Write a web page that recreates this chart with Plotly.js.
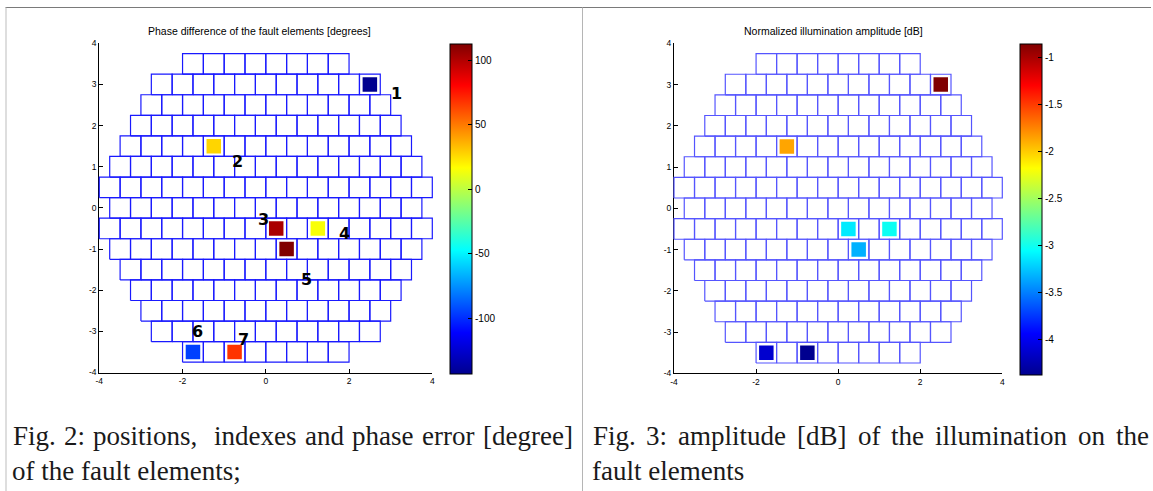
<!DOCTYPE html>
<html>
<head>
<meta charset="utf-8">
<script src="https://cdn.plot.ly/plotly-3.0.1.min.js"></script>
<style>html,body{margin:0;padding:0;background:#fff;}#chart{width:1153px;height:491px;}</style>
</head>
<body>
<div id="chart"></div>
<script>
// ---- array layout: one row per y level, number of elements in each row ----
const rowY = [3.5, 3, 2.5, 2, 1.5, 1, 0.5, 0, -0.5, -1, -1.5, -2, -2.5, -3, -3.5];
const rowCount = [8, 11, 12, 13, 14, 15, 16, 15, 16, 15, 14, 13, 12, 11, 8];
const cellSize = 0.5;

// ---- fault elements ----
const faultIndex = ["1", "2", "3", "4", "5", "6", "7"];
const faultX = [2.5, -1.25, 0.25, 1.25, 0.5, -1.75, -0.75];
const faultY = [3, 1.5, -0.5, -0.5, -1, -3.5, -3.5];
const phaseError = [-143.4, 26.9, 101.7, 15, 112.4, -95.4, 67.6];      // degrees
const amplitudeDb = [-0.86, -1.87, -3.13, -3.02, -3.33, -4.13, -4.38];  // dB
const labelX = [3.13, -0.68, -0.05, 1.89, 0.97, -1.65, -0.53];
const labelY = [2.78, 1.13, -0.28, -0.62, -1.75, -3.01, -3.2];

// ---- tick labels ----
const xTicks = [-4, -2, 0, 2, 4];
const yTicks = [-4, -3, -2, -1, 0, 1, 2, 3, 4];
const phaseTicks = [-100, -50, 0, 50, 100];
const ampTicks = [-4, -3.5, -3, -2.5, -2, -1.5, -1];

const titles = ["Phase difference of the fault elements [degrees]", "Normalized illumination amplitude [dB]"];
const caption1 = ["Fig.", "2:", "positions,", "indexes", "and", "phase", "error", "[degree]"];
const caption1Gaps = [1, 1, 2, 1, 1, 1, 1];
const caption1End = "of the fault elements;";
const caption2 = ["Fig.", "3:", "amplitude", "[dB]", "of", "the", "illumination", "on", "the"];
const caption2Gaps = [1, 1, 1, 1, 1, 1, 1, 1];
const caption2End = "fault elements";

// MATLAB jet
const jet = [[0, 'rgb(0,0,143)'], [0.125, 'rgb(0,0,255)'], [0.375, 'rgb(0,255,255)'],
             [0.625, 'rgb(255,255,0)'], [0.875, 'rgb(255,0,0)'], [1, 'rgb(128,0,0)']];

// build cell outlines from the row description
function gridPath() {
  const xs = [], ys = [];
  const h = cellSize / 2;
  rowY.forEach((y, r) => {
    const n = rowCount[r];
    for (let k = 0; k < n; k++) {
      const cx = -(n - 1) * cellSize / 2 + k * cellSize;
      xs.push(cx - h, cx + h, cx + h, cx - h, cx - h, null);
      ys.push(y - h, y - h, y + h, y + h, y - h, null);
    }
  });
  return {xs, ys};
}
const g = gridPath();

const W = 1153, H = 491;
const px = v => v / W;
const py = v => 1 - v / H;

// plot boxes in pixels
const boxL = {l: 99.3, r: 432.3, t: 43.3, b: 372.5};
const boxR = {l: 674, r: 1002.3, t: 43.3, b: 373.3};
const PAD = 4; // grid drawn on a hidden, slightly larger twin so edge lines aren't clipped

function axis(domain, ticks) {
  return {domain: domain, range: [-4, 4], showgrid: false, zeroline: false, showline: true,
    linecolor: '#000', linewidth: 1, mirror: false, ticks: 'inside', ticklen: 4, tickcolor: '#000',
    tickvals: ticks, ticktext: ticks.map(String),
    tickfont: {family: 'Liberation Sans', size: 8.5, color: '#000'}, fixedrange: true};
}
function twinX(b) {
  const ext = PAD * 8 / (b.r - b.l);
  return {domain: [px(b.l - PAD), px(b.r + PAD)], range: [-4 - ext, 4 + ext], visible: false, fixedrange: true};
}
function twinY(b) {
  const ext = PAD * 8 / (b.b - b.t);
  return {domain: [py(b.b + PAD), py(b.t - PAD)], range: [-4 - ext, 4 + ext], visible: false, fixedrange: true};
}

function cbar(xLeft, yBottom, ticks) {
  return {x: px(xLeft), xanchor: 'left', xpad: 0, ypad: 0, y: py(44), yanchor: 'top',
    len: (yBottom - 44) / H, lenmode: 'fraction', thickness: 22, thicknessmode: 'pixels',
    outlinewidth: 1, outlinecolor: '#000', ticks: 'inside', ticklen: 4, tickcolor: '#000',
    tickvals: ticks, ticktext: ticks.map(String),
    tickfont: {family: 'Liberation Sans', size: 10, color: '#000'}};
}

const traces = [
  {x: g.xs, y: g.ys, xaxis: 'x3', yaxis: 'y3', mode: 'lines', type: 'scatter',
   line: {color: 'rgb(25,25,255)', width: 1.2}, hoverinfo: 'skip', showlegend: false},
  {x: g.xs, y: g.ys, xaxis: 'x4', yaxis: 'y4', mode: 'lines', type: 'scatter',
   line: {color: 'rgb(85,85,255)', width: 1.2}, hoverinfo: 'skip', showlegend: false},
  {x: faultX, y: faultY, xaxis: 'x', yaxis: 'y', mode: 'markers', type: 'scatter', showlegend: false,
   marker: {symbol: 'square', size: 14.5, color: phaseError, colorscale: jet, line: {width: 0},
     colorbar: cbar(450, 374, phaseTicks)}},
  {x: faultX, y: faultY, xaxis: 'x2', yaxis: 'y2', mode: 'markers', type: 'scatter', showlegend: false,
   marker: {symbol: 'square', size: 14.5, color: amplitudeDb, colorscale: jet, line: {width: 0},
     colorbar: cbar(1020, 375, ampTicks)}}
];

const annotations = [];
faultIndex.forEach((t, i) => annotations.push({
  x: labelX[i], y: labelY[i], xref: 'x', yref: 'y', text: t, showarrow: false,
  font: {family: 'DejaVu Sans', size: 16, weight: 'bold', color: '#000'}}));
annotations.push({x: px(259), y: py(31), xref: 'paper', yref: 'paper', xanchor: 'center', yanchor: 'middle',
  text: titles[0], showarrow: false, font: {family: 'Liberation Sans', size: 10.5, color: '#000'}});
annotations.push({x: px(833), y: py(31), xref: 'paper', yref: 'paper', xanchor: 'center', yanchor: 'middle',
  text: titles[1], showarrow: false, font: {family: 'Liberation Sans', size: 10.5, color: '#000'}});

// captions: first line justified word by word between the margins
const capSize = 27;
const capFont = {family: 'Liberation Serif', size: capSize, color: '#1a1a1a'};
const ctx = document.createElement('canvas').getContext('2d');
ctx.font = capSize + "px 'Liberation Serif'";
function word(t, left, yc) {
  annotations.push({x: px(left), y: py(yc), xref: 'paper', yref: 'paper', xanchor: 'left', yanchor: 'middle',
    text: t, showarrow: false, borderpad: 0, borderwidth: 0, font: capFont});
}
function justify(words, gaps, left, right, yc) {
  const widths = words.map(w => ctx.measureText(w).width);
  const free = (right - left) - widths.reduce((a, b) => a + b, 0);
  const unit = free / gaps.reduce((a, b) => a + b, 0);
  let x = left;
  words.forEach((w, i) => {
    word(w, x, yc);
    x += widths[i] + (i < gaps.length ? gaps[i] * unit : 0);
  });
}
justify(caption1, caption1Gaps, 12.5, 573, 436);
justify(caption2, caption2Gaps, 592.5, 1149, 436);
word(caption1End, 12, 471);
word(caption2End, 592, 471);

const shapes = [
  {type: 'line', xref: 'paper', yref: 'paper', x0: px(5.5), x1: px(1151), y0: py(7.5), y1: py(7.5),
   line: {color: '#7a7a7a', width: 1}},
  {type: 'line', xref: 'paper', yref: 'paper', x0: px(6), x1: px(6), y0: py(7.5), y1: 0,
   line: {color: '#bdbdbd', width: 1}},
  {type: 'line', xref: 'paper', yref: 'paper', x0: px(582.5), x1: px(582.5), y0: py(7.5), y1: 0,
   line: {color: '#b5b5b5', width: 1}}
];

const layout = {
  width: W, height: H, margin: {l: 0, r: 0, t: 0, b: 0},
  paper_bgcolor: '#fff', plot_bgcolor: 'rgba(0,0,0,0)', showlegend: false,
  xaxis: Object.assign(axis([px(boxL.l), px(boxL.r)], xTicks), {anchor: 'y'}),
  yaxis: Object.assign(axis([py(boxL.b), py(boxL.t)], yTicks), {anchor: 'x'}),
  xaxis2: Object.assign(axis([px(boxR.l), px(boxR.r)], xTicks), {anchor: 'y2'}),
  yaxis2: Object.assign(axis([py(boxR.b), py(boxR.t)], yTicks), {anchor: 'x2'}),
  xaxis3: Object.assign(twinX(boxL), {anchor: 'y3'}),
  yaxis3: Object.assign(twinY(boxL), {anchor: 'x3'}),
  xaxis4: Object.assign(twinX(boxR), {anchor: 'y4'}),
  yaxis4: Object.assign(twinY(boxR), {anchor: 'x4'}),
  annotations: annotations, shapes: shapes
};

Plotly.newPlot('chart', traces, layout, {displayModeBar: false, staticPlot: true});
</script>
</body>
</html>
